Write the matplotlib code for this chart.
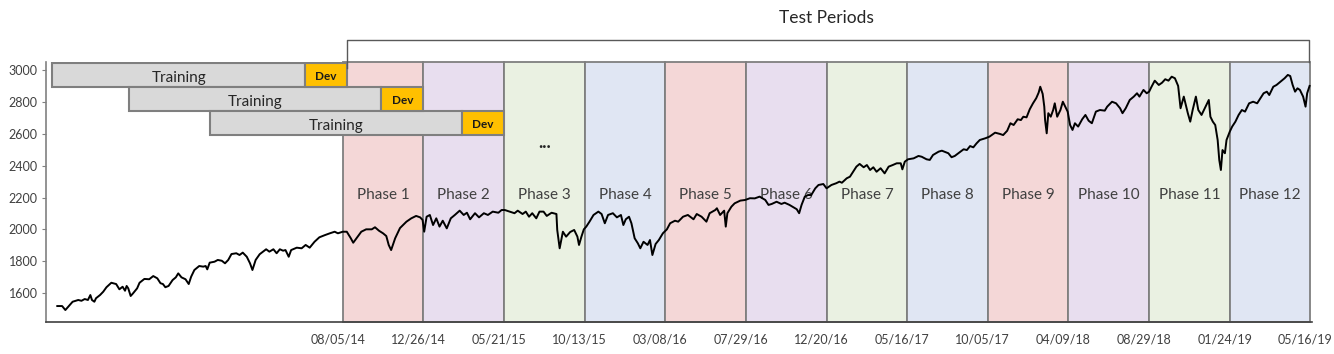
import matplotlib
matplotlib.use('Agg')
import matplotlib.pyplot as plt
import matplotlib.transforms as mtransforms
import numpy as np

plt.rcParams['font.family'] = ['Lato', 'DejaVu Sans']

# trading days counted from 08/05/14 (start of Phase 1), closing prices
days_a = [-354, -348, -344, -341, -335, -328, -324, -320, -316, -313, -311, -308, -306, -301, -297, -293, -287,
	-281, -277, -273, -270, -268, -266, -263, -260, -255, -252, -246, -240, -235, -230, -226, -223, -220, -216,
	-211, -207, -204, -200, -195, -191, -188, -184, -178, -173, -170, -168, -165, -159, -155, -150, -146, -142]
price_a = [1520, 1520, 1495, 1512, 1547, 1558, 1553, 1564, 1558, 1589, 1558, 1547, 1569, 1589, 1610, 1638, 1666,
	1658, 1625, 1641, 1616, 1646, 1631, 1583, 1600, 1631, 1666, 1690, 1688, 1708, 1694, 1663, 1658, 1638, 1646,
	1683, 1700, 1725, 1700, 1688, 1658, 1704, 1746, 1771, 1767, 1771, 1750, 1792, 1798, 1809, 1804, 1788, 1809]

days_b = [-138, -132, -128, -124, -119, -115, -112, -108, -103, -95, -91, -86, -82, -78, -74, -71, -67, -64,
	-57, -51, -46, -41, -35, -29, -22, -16, -10, -6, 0, 5, 10, 13, 17, 23, 29, 36, 40, 45, 50, 54, 57, 60, 65]
price_b = [1846, 1851, 1840, 1855, 1829, 1788, 1746, 1809, 1845, 1876, 1861, 1876, 1851, 1876, 1867, 1871, 1829, 1871,
	1886, 1882, 1903, 1886, 1923, 1951, 1965, 1976, 1986, 1976, 1986, 1986, 1945, 1917, 1945, 1986, 2001, 2001,
	2014, 1992, 1976, 1959, 1903, 1871, 1945]

days_c = [71, 79, 85, 91, 96, 99, 101, 104, 108, 112, 116, 120, 124, 129, 134, 139, 145, 150, 154, 158, 164,
	169, 175, 180, 186, 193, 197, 201, 207, 213, 217, 223, 227, 231, 235, 240, 244, 249, 253, 259, 265, 266,
	269, 273, 277, 282, 287, 291, 293, 296, 299]
price_c = [2009, 2049, 2070, 2085, 2076, 2060, 1986, 2080, 2091, 2028, 2070, 2018, 2055, 2007, 2070, 2091, 2118,
	2091, 2105, 2064, 2102, 2076, 2102, 2091, 2112, 2105, 2122, 2122, 2112, 2102, 2118, 2097, 2112, 2080, 2102,
	2070, 2112, 2112, 2085, 2105, 2097, 1997, 1882, 1986, 1955, 1984, 1997, 1955, 1903, 1955, 2001]

days_d = [302, 306, 311, 317, 321, 325, 329, 335, 340, 345, 348, 351, 355, 358, 362, 366, 369, 373, 378, 381,
	384, 388, 392, 397, 402, 406, 412, 416, 422, 428, 435, 439, 445, 451, 455, 462, 464, 468, 473, 475, 477,
	482, 486, 493, 499, 505, 511]
price_d = [2018, 2049, 2091, 2112, 2097, 2039, 2091, 2102, 2076, 2091, 2028, 2064, 2080, 2039, 1945, 1913, 1882,
	1923, 1903, 1934, 1840, 1909, 1934, 1976, 2001, 2039, 2055, 2049, 2080, 2091, 2064, 2097, 2080, 2049, 2102,
	2122, 2133, 2091, 2118, 2018, 2102, 2143, 2164, 2181, 2185, 2196, 2195]

days_e = [517, 524, 528, 532, 538, 544, 548, 554, 559, 563, 566, 569, 573, 577, 581, 586, 590, 596, 600, 606,
	612, 616, 619, 625, 629, 633, 637, 641, 646, 650, 654, 658, 662, 667, 672, 677, 682, 687, 692, 694, 697,
	701, 708, 714, 718, 724, 728, 732, 739]
price_e = [2206, 2185, 2154, 2160, 2174, 2160, 2168, 2154, 2139, 2127, 2102, 2154, 2206, 2216, 2216, 2258, 2279,
	2285, 2258, 2279, 2290, 2300, 2293, 2321, 2331, 2362, 2394, 2411, 2390, 2404, 2373, 2390, 2362, 2384, 2352,
	2394, 2404, 2415, 2415, 2377, 2425, 2440, 2446, 2461, 2456, 2440, 2436, 2467, 2488]

days_f = [743, 751, 755, 759, 766, 770, 774, 778, 782, 786, 790, 797, 802, 809, 815, 819, 824, 828, 832, 837,
	841, 844, 848, 852, 856, 860, 863, 865, 868, 870, 871, 873, 875, 878, 881, 883, 886, 890, 893, 896, 899,
	902, 905, 908, 912, 917, 921, 925, 929, 934, 939, 945, 948, 954, 959, 964]
price_f = [2494, 2478, 2453, 2461, 2488, 2503, 2498, 2523, 2515, 2540, 2561, 2572, 2582, 2607, 2599, 2592, 2619,
	2666, 2655, 2691, 2686, 2707, 2703, 2754, 2791, 2823, 2858, 2895, 2850, 2770, 2686, 2603, 2729, 2707, 2749,
	2791, 2707, 2749, 2801, 2770, 2739, 2655, 2624, 2666, 2645, 2691, 2718, 2682, 2666, 2739, 2749, 2745, 2770,
	2801, 2791, 2760]

days_g = [967, 971, 976, 981, 985, 988, 993, 997, 1000, 1003, 1007, 1012, 1016, 1020, 1024, 1028, 1032, 1036,
	1039, 1043, 1048, 1051, 1054, 1058, 1061, 1065, 1069, 1074, 1076, 1079, 1082, 1085, 1087, 1089, 1091, 1094,
	1096, 1100, 1103, 1107, 1111, 1115, 1119, 1124, 1129, 1134, 1138, 1142, 1146, 1149, 1154, 1158, 1163, 1168,
	1172, 1175, 1178, 1181, 1184, 1187, 1191, 1194, 1196, 1199]
price_g = [2729, 2760, 2812, 2833, 2854, 2833, 2875, 2854, 2864, 2895, 2933, 2906, 2920, 2942, 2933, 2958, 2948,
	2900, 2760, 2833, 2729, 2676, 2749, 2833, 2749, 2718, 2760, 2812, 2707, 2676, 2655, 2561, 2436, 2373, 2498,
	2478, 2561, 2613, 2645, 2676, 2718, 2749, 2739, 2791, 2801, 2791, 2823, 2854, 2864, 2843, 2895, 2906, 2927,
	2948, 2969, 2962, 2906, 2864, 2885, 2875, 2833, 2770, 2854, 2900]

phase_dates = ['08/05/14', '12/26/14', '05/21/15', '10/13/15', '03/08/16', '07/29/16', '12/20/16',
	'05/16/17', '10/05/17', '04/09/18', '08/29/18', '01/24/19', '05/16/19']
phase_names = ['Phase %d' % (i + 1) for i in range(12)]
phase_colors = ['#F4D7D7', '#E8DEEF', '#EAF1E2', '#E0E6F3']
PHASE_LEN = 100

# rolling training / dev windows (trading days)
train_start = [-360, -265, -165]
dev_start = [-47, 48, 148]
dev_end = [5, 100, 200]
row_center = [2968, 2818, 2667]

EDGE = '#7F7F7F'


def draw_phases(ax):
	"""
	Coloured test phases with their names
	"""

	for i, name in enumerate(phase_names):
		span = ax.axvspan(i * PHASE_LEN, (i + 1) * PHASE_LEN, facecolor=phase_colors[i % 4],
			edgecolor=EDGE, linewidth=1.3, zorder=1)
		span.set_clip_on(False)
		ax.text((i + 0.5) * PHASE_LEN, 2225, name, ha='center', va='center_baseline',
			fontsize=11, color='#404040', zorder=2)
	ax.text(2.5 * PHASE_LEN, 2545, '...', ha='center', va='center', fontsize=13,
		fontweight='bold', color='#262626')


def draw_windows(ax):
	"""
	Training and dev bars on top of the chart
	"""

	ts = np.array(train_start)
	ds = np.array(dev_start)
	de = np.array(dev_end)
	ax.barh(row_center, ds - ts, left=ts, height=151, color='#D9D9D9', edgecolor=EDGE,
		linewidth=1.5, zorder=4)
	ax.barh(row_center, de - ds, left=ds, height=151, color='#FFC000', edgecolor=EDGE,
		linewidth=1.5, zorder=4)
	for t, d, e, y in zip(ts, ds, de, row_center):
		ax.text((t + d) / 2, y - 10, 'Training', ha='center', va='center_baseline', fontsize=11,
			color='#262626', zorder=5)
		ax.text((d + e) / 2, y, 'Dev', ha='center', va='center_baseline', fontsize=8.5,
			fontweight='bold', color='#1A1A1A', zorder=5)


def draw_bracket(ax):
	"""
	Bracket and title over the test periods
	"""

	end = len(phase_names) * PHASE_LEN
	ax.plot([5, 5, end - 2, end - 2], [3012, 3188, 3188, 3050], color='#595959',
		linewidth=1.0, clip_on=False, zorder=6)
	ax.text(end / 2, 3326, 'Test Periods', ha='center', va='center', fontsize=12.5,
		color='#262626')


def main():
	days = days_a + days_b + days_c + days_d + days_e + days_f + days_g
	prices = price_a + price_b + price_c + price_d + price_e + price_f + price_g

	fig = plt.figure(figsize=(13.34, 3.54), dpi=100)
	ax = fig.add_axes([46 / 1334, 1 - 322 / 354, (1312 - 46) / 1334, (322 - 62) / 354])

	draw_phases(ax)
	ax.plot(days, prices, color='black', linewidth=1.4, zorder=3)
	draw_windows(ax)
	draw_bracket(ax)

	ax.set_xlim(-368, 1202)
	ax.set_ylim(1420, 3050)
	ax.set_yticks(range(1600, 3001, 200))
	ax.set_xticks(range(0, len(phase_dates) * PHASE_LEN, PHASE_LEN))
	ax.set_xticklabels(phase_dates)
	ax.tick_params(axis='y', length=3, color='#808080', labelsize=9, labelcolor='#404040', pad=3)
	ax.tick_params(axis='x', length=0, labelsize=9, labelcolor='#404040', pad=8)
	shift = mtransforms.ScaledTranslation(-5 / 100, 0, fig.dpi_scale_trans)
	for label in ax.get_xticklabels():
		label.set_transform(label.get_transform() + shift)

	ax.spines['top'].set_visible(False)
	ax.spines['right'].set_visible(False)
	ax.spines['left'].set_color('#808080')
	ax.spines['bottom'].set_color('#404040')
	ax.spines['left'].set_linewidth(1.2)
	ax.spines['bottom'].set_linewidth(1.2)

	fig.savefig('out.png', dpi=100)


if __name__ == '__main__':
	main()
